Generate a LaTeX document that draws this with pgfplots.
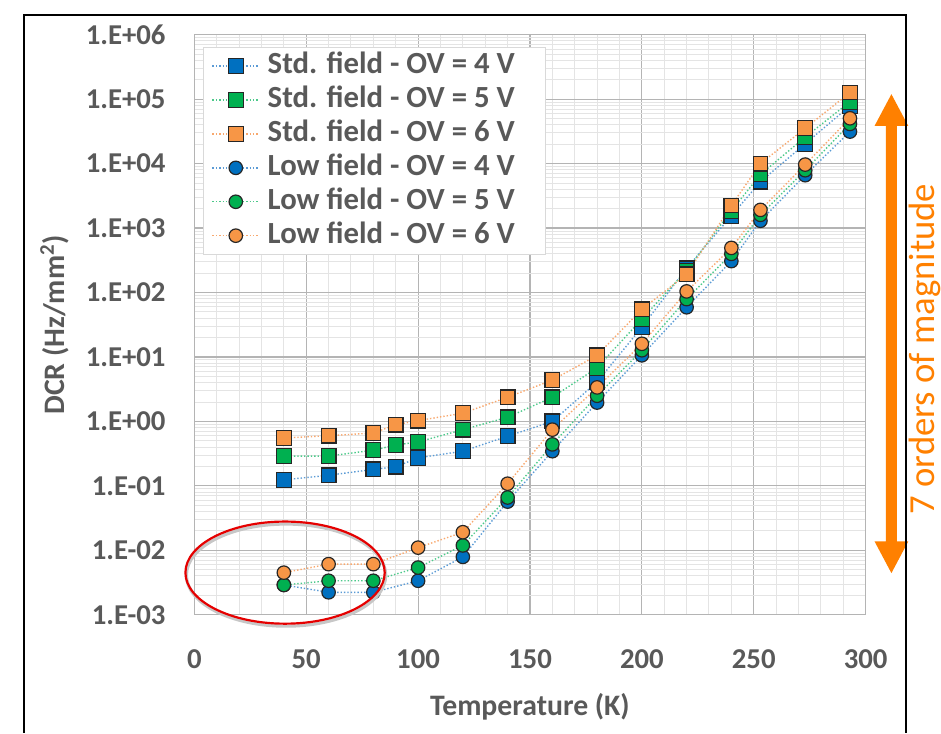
\documentclass[border=0pt]{standalone}
\usepackage{fontspec}
\setmainfont{Carlito}
\usepackage{pgfplots}
\pgfplotsset{compat=1.18}

\definecolor{txtgray}{HTML}{595959}
\definecolor{sBlue}{HTML}{0070C0}
\definecolor{sGreen}{HTML}{00B050}
\definecolor{sOrange}{HTML}{F79646}
\definecolor{lBlue}{HTML}{5B9BD5}
\definecolor{lGreen}{HTML}{4CC98A}
\definecolor{lOrange}{HTML}{F8A86E}
\definecolor{arrowOrange}{HTML}{FF8000}
\definecolor{majgrid}{HTML}{B4B4B4}
\definecolor{mingrid}{HTML}{E4E4E4}
\definecolor{legframe}{HTML}{D9D9D9}

% DCR versus temperature, standard-field devices (squares)
\pgfplotstableread{
T     ov4      ov5      ov6
40    0.124    0.29     0.553
60    0.146    0.29     0.60
80    0.18     0.358    0.66
90    0.198    0.43     0.89
100   0.272    0.48     1.03
120   0.345    0.745    1.34
140   0.59     1.16     2.37
160   1.0      2.37     4.38
180   4.1      6.8      10.6
200   29       38.8     55
220   237      220      191
240   1550     1850     2234
253   5230     6770     10000
273   20300    25800    35400
293   78900    91000    126800
}\stdfield

% DCR versus temperature, low-field devices (circles)
\pgfplotstableread{
T     ov4      ov5      ov6
40    0.0029   0.0029   0.0045
60    0.00223  0.00337  0.0061
80    0.00223  0.00337  0.0061
100   0.00337  0.0054   0.0110
120   0.0079   0.0119   0.0191
140   0.057    0.066    0.108
160   0.345    0.44     0.745
180   1.96     2.5      3.37
200   10.6     12.7     16
220   59       79       104
240   307      398      492
253   1297     1603     1914
273   6610     7890     9660
293   31400    41300    50500
}\lowfield

\begin{document}
\begin{tikzpicture}
\begin{scope}[x=0.5pt,y=0.5pt]
  \path[use as bounding box] (0,0) rectangle (941,729);
\end{scope}

\begin{axis}[
  at={(98pt,54.5pt)}, anchor=south west,
  scale only axis, width=338.5pt, height=292.5pt,
  ymode=log,
  xmin=0, xmax=300, ymin=1e-3, ymax=1e6,
  xtick={0,50,...,300},
  xticklabels={0,50,100,150,200,250,300},
  minor x tick num=4,
  ytick={1e-3,1e-2,1e-1,1e0,1e1,1e2,1e3,1e4,1e5,1e6},
  yticklabels={1.E-03,1.E-02,1.E-01,1.E+00,1.E+01,1.E+02,1.E+03,1.E+04,1.E+05,1.E+06},
  minor ytick={2e-3,3e-3,4e-3,5e-3,6e-3,7e-3,8e-3,9e-3,
               2e-2,3e-2,4e-2,5e-2,6e-2,7e-2,8e-2,9e-2,
               2e-1,3e-1,4e-1,5e-1,6e-1,7e-1,8e-1,9e-1,
               2,3,4,5,6,7,8,9,
               20,30,40,50,60,70,80,90,
               200,300,400,500,600,700,800,900,
               2e3,3e3,4e3,5e3,6e3,7e3,8e3,9e3,
               2e4,3e4,4e4,5e4,6e4,7e4,8e4,9e4,
               2e5,3e5,4e5,5e5,6e5,7e5,8e5,9e5},
  grid=both,
  major grid style={majgrid, line width=0.6pt},
  minor grid style={mingrid, line width=0.5pt},
  axis line style={majgrid, line width=0.6pt},
  major tick length=0pt, minor tick length=0pt,
  tick label style={font=\bfseries\fontsize{14.5}{16}\selectfont, text=txtgray},
  yticklabel style={xshift=-11pt},
  xticklabel style={yshift=-14pt},
  xlabel={Temperature (K)},
  ylabel={DCR (Hz/mm\textsuperscript{2})},
  label style={font=\bfseries\fontsize{15}{17}\selectfont, text=txtgray},
  xlabel style={at={(axis description cs:0.5,0)}, anchor=north, yshift=-36pt},
  ylabel style={at={(axis description cs:-0.2083,0.5)}, anchor=center},
  legend style={
    at={(0.0133,0.9795)}, anchor=north west,
    draw=legframe, fill=white, line width=0.6pt,
    font=\bfseries\fontsize{15.5}{18}\selectfont, text=txtgray,
    inner xsep=4pt, inner ysep=1pt,
    nodes={inner sep=1.5pt, text height=11pt, text depth=3.1pt},
    /tikz/every odd column/.append style={column sep=2.5pt},
  },
  legend cell align=left,
  legend image code/.code={
    \draw[mark repeat=2, mark phase=2] plot coordinates {(0pt,0pt) (11.75pt,0pt) (23.5pt,0pt)};
  },
  every axis plot/.append style={densely dotted, line width=0.7pt},
]

\addplot[lBlue, mark=square*, mark size=3.7pt,
  mark options={solid, fill=sBlue, draw=black!85, line width=0.6pt}]
  table[x=T, y=ov4] {\stdfield};
\addlegendentry{Std. field - OV = 4 V\hspace*{10pt}}
\addplot[lGreen, mark=square*, mark size=3.7pt,
  mark options={solid, fill=sGreen, draw=black!85, line width=0.6pt}]
  table[x=T, y=ov5] {\stdfield};
\addlegendentry{Std. field - OV = 5 V}
\addplot[lOrange, mark=square*, mark size=3.7pt,
  mark options={solid, fill=sOrange, draw=black!85, line width=0.6pt}]
  table[x=T, y=ov6] {\stdfield};
\addlegendentry{Std. field - OV = 6 V}

\addplot[lBlue, mark=*, mark size=3.4pt,
  mark options={solid, fill=sBlue, draw=black!85, line width=0.6pt}]
  table[x=T, y=ov4] {\lowfield};
\addlegendentry{Low field - OV = 4 V}
\addplot[lGreen, mark=*, mark size=3.4pt,
  mark options={solid, fill=sGreen, draw=black!85, line width=0.6pt}]
  table[x=T, y=ov5] {\lowfield};
\addlegendentry{Low field - OV = 5 V}
\addplot[lOrange, mark=*, mark size=3.4pt,
  mark options={solid, fill=sOrange, draw=black!85, line width=0.6pt}]
  table[x=T, y=ov6] {\lowfield};
\addlegendentry{Low field - OV = 6 V}
\end{axis}

\begin{scope}[x=0.5pt,y=0.5pt]
  % highlight of the low-temperature low-field points
  \draw[black!22, line width=1.6pt] (288.5,149) ellipse [x radius=50.25pt, y radius=25.75pt];
  \draw[red!90!black, line width=1.1pt] (287.5,151.5) ellipse [x radius=50.25pt, y radius=25.75pt];
  % double-headed arrow spanning the DCR range
  \fill[arrowOrange] (899,634) -- (916,602) -- (904.5,602) -- (904.5,183) -- (916,183)
    -- (899,151) -- (882,183) -- (893.5,183) -- (893.5,602) -- (882,602) -- cycle;
  \node[rotate=90, text=arrowOrange, font=\fontsize{18.5}{20}\selectfont, inner sep=0pt]
    at (933,377) {7 orders of magnitude};
  % outer frame
  \draw[black, line width=1pt] (24,-10) -- (24,714) -- (914,714) -- (914,-10);
\end{scope}
\end{tikzpicture}
\end{document}
